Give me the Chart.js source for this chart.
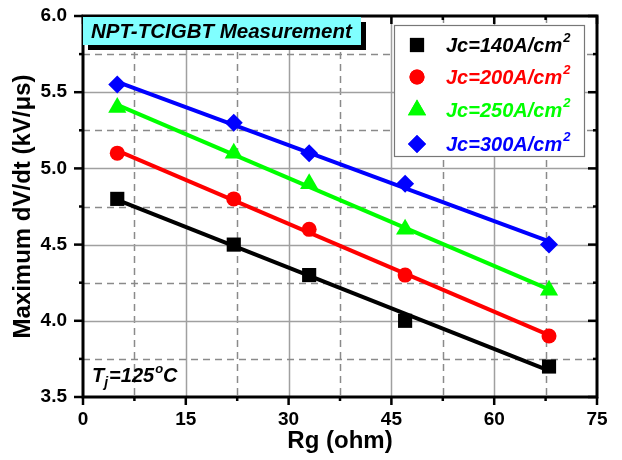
<!DOCTYPE html>
<html>
<head>
<meta charset="utf-8">
<script src="https://cdn.jsdelivr.net/npm/chart.js@4.4.1/dist/chart.umd.min.js"></script>
<style>
  body { margin: 0; background: #fff; }
  #wrap { width: 622px; height: 460px; }
</style>
</head>
<body>
<div id="wrap"><canvas id="grafica" width="622" height="460"></canvas></div>
<script>
// gate resistance (ohm) and measured max dV/dt (kV/us) at each current density
var rg = [5, 22, 33, 47, 68];
var dv140 = [4.8, 4.5, 4.3, 4.0, 3.7];
var dv200 = [5.1, 4.8, 4.6, 4.3, 3.9];
var dv250 = [5.4, 5.1, 4.9, 4.6, 4.2];
var dv300 = [5.55, 5.3, 5.1, 4.9, 4.5];
var jcLabels = ['140', '200', '250', '300'];
var xTicks = [0, 15, 30, 45, 60, 75];
var yTicks = [3.5, 4.0, 4.5, 5.0, 5.5, 6.0];

var colores = ['#000000', '#ff0000', '#00ff00', '#0000ff'];
var formas = ['rect', 'circle', 'triangle', 'rectRot'];
var radios = [10, 7.5, 10.5, 9];
var series = [dv140, dv200, dv250, dv300];
var FONT = 'Arial, "Liberation Sans", sans-serif';

// least squares straight line through each series, drawn between first and last Rg
function ajuste(xs, ys) {
  var n = xs.length, mx = 0, my = 0;
  for (var i = 0; i < n; i++) { mx += xs[i]; my += ys[i]; }
  mx /= n; my /= n;
  var sxx = 0, sxy = 0;
  for (var j = 0; j < n; j++) { sxx += (xs[j] - mx) * (xs[j] - mx); sxy += (xs[j] - mx) * (ys[j] - my); }
  var b = sxy / sxx, a = my - b * mx;
  var x0 = xs[0], x1 = xs[n - 1];
  return [{x: x0, y: a + b * x0}, {x: x1, y: a + b * x1}];
}

var datasets = [];
series.forEach(function (s, k) {
  datasets.push({
    label: 'Jc=' + jcLabels[k] + 'A/cm2',
    data: rg.map(function (x, i) { return {x: x, y: s[i]}; }),
    showLine: false,
    pointStyle: formas[k],
    pointRadius: radios[k],
    pointHoverRadius: radios[k],
    backgroundColor: colores[k],
    borderColor: colores[k],
    borderWidth: 0,
    order: 0
  });
  datasets.push({
    label: 'fit' + jcLabels[k],
    data: ajuste(rg, s),
    showLine: true,
    pointRadius: 0,
    borderColor: colores[k],
    borderWidth: 4,
    order: 1
  });
});

function xPix(chart, v) { return chart.scales.x.getPixelForValue(v); }
function yPix(chart, v) { return chart.scales.y.getPixelForValue(v); }
function esMayorY(w) { return Math.abs(w * 2 - Math.round(w * 2)) < 1e-6; }

var rejilla = {
  id: 'rejilla',
  beforeDatasetsDraw: function (chart) {
    var c = chart.ctx, a = chart.chartArea;
    c.save();
    c.lineWidth = 1.5;
    for (var v = 7.5; v < 75; v += 7.5) {
      var px = Math.round(xPix(chart, v)) + 0.5;
      var mayor = (v % 15 === 0);
      c.strokeStyle = mayor ? '#a0a0a0' : '#8a8a8a';
      c.setLineDash(mayor ? [] : [7, 5]);
      c.beginPath(); c.moveTo(px, a.top); c.lineTo(px, a.bottom); c.stroke();
    }
    for (var w = 3.75; w < 6; w += 0.25) {
      var py = Math.round(yPix(chart, w)) + 0.5;
      var may = esMayorY(w);
      c.strokeStyle = may ? '#a0a0a0' : '#8a8a8a';
      c.setLineDash(may ? [] : [7, 5]);
      c.beginPath(); c.moveTo(a.left, py); c.lineTo(a.right, py); c.stroke();
    }
    c.restore();
  },
  afterDatasetsDraw: function (chart) {
    var c = chart.ctx, a = chart.chartArea;
    c.save();
    // frame and tick marks
    c.strokeStyle = '#000'; c.lineWidth = 3; c.setLineDash([]);
    c.strokeRect(a.left, a.top, a.right - a.left, a.bottom - a.top);
    c.lineWidth = 2.5;
    for (var v = 0; v <= 75; v += 7.5) {
      var px = xPix(chart, v), L = (v % 15 === 0) ? 8 : 4;
      c.beginPath(); c.moveTo(px, a.bottom); c.lineTo(px, a.bottom + L); c.stroke();
      c.beginPath(); c.moveTo(px, a.top); c.lineTo(px, a.top + L); c.stroke();
    }
    for (var w = 3.5; w <= 6.001; w += 0.25) {
      var py = yPix(chart, w), M = esMayorY(w) ? 9 : 4;
      c.beginPath(); c.moveTo(a.left, py); c.lineTo(a.left - M, py); c.stroke();
      c.beginPath(); c.moveTo(a.right, py); c.lineTo(a.right - M, py); c.stroke();
    }

    // title box with shadow
    var bx = a.left, by = a.top + 1, bw = 278, bh = 28;
    c.fillStyle = '#000'; c.fillRect(bx + 5, by + 5, bw, bh);
    c.fillStyle = '#80ffff'; c.fillRect(bx, by, bw, bh);
    c.fillStyle = '#000';
    c.font = 'italic bold 20.5px ' + FONT;
    c.textBaseline = 'alphabetic'; c.textAlign = 'left';
    c.fillText('NPT-TCIGBT Measurement', bx + 8, by + 21);

    // legend
    var lx = 394, ly = 25, lw = 190, lh = 131;
    c.fillStyle = '#fff'; c.fillRect(lx, ly, lw, lh);
    c.strokeStyle = '#777'; c.lineWidth = 1.2; c.strokeRect(lx + 0.5, ly + 0.5, lw, lh);
    var filas = [45, 77, 110, 144];
    chart.data.datasets.filter(function (d) { return d.order === 0; }).forEach(function (d, k) {
      var cy = filas[k];
      c.fillStyle = d.backgroundColor;
      c.beginPath();
      Chart.helpers.drawPoint(c, {pointStyle: d.pointStyle, radius: d.pointRadius, borderWidth: 0}, 417, cy);
      c.fill();
      c.font = 'italic bold 20px ' + FONT;
      var t = 'Jc=' + jcLabels[k] + 'A/cm';
      c.fillText(t, 446, cy + 7);
      var tw = c.measureText(t).width;
      c.font = 'italic bold 13px ' + FONT;
      c.fillText('2', 446 + tw + 1, cy - 3);
    });

    // junction temperature note
    c.fillStyle = '#000';
    var tx = 92, ty = 382;
    c.font = 'italic bold 20px ' + FONT;
    c.fillText('T', tx, ty);
    tx += c.measureText('T').width;
    c.font = 'italic bold 14px ' + FONT;
    c.fillText('j', tx, ty + 5);
    tx += c.measureText('j').width + 1;
    c.font = 'italic bold 20px ' + FONT;
    c.fillText('=125', tx, ty);
    tx += c.measureText('=125').width;
    c.font = 'italic bold 13px ' + FONT;
    c.fillText('o', tx + 1, ty - 9);
    tx += c.measureText('o').width + 1;
    c.font = 'italic bold 20px ' + FONT;
    c.fillText('C', tx, ty);
    c.restore();
  }
};

var micanvas = document.getElementById('grafica').getContext('2d');
var chart = new Chart(micanvas, {
  type: 'scatter',
  data: { datasets: datasets },
  plugins: [rejilla],
  options: {
    responsive: false,
    animation: false,
    layout: { padding: { left: 0, top: 16, right: 25, bottom: 0 } },
    plugins: { legend: { display: false }, tooltip: { enabled: false } },
    scales: {
      x: {
        type: 'linear', min: xTicks[0], max: xTicks[xTicks.length - 1],
        afterFit: function (s) { s.height = 63; s.paddingLeft = 0; s.paddingRight = 0; },
        afterBuildTicks: function (s) { s.ticks = xTicks.map(function (v) { return {value: v}; }); },
        grid: { display: false, drawTicks: false },
        border: { display: false },
        ticks: { color: '#000', padding: 11, font: { family: FONT, size: 19, weight: 'bold' } },
        title: { display: true, text: 'Rg (ohm)', color: '#000', padding: { top: 0, bottom: 4 },
                 font: { family: FONT, size: 24, weight: 'bold' } }
      },
      y: {
        type: 'linear', min: yTicks[0], max: yTicks[yTicks.length - 1],
        afterFit: function (s) { s.width = 83; s.paddingTop = 0; s.paddingBottom = 0; },
        afterBuildTicks: function (s) { s.ticks = yTicks.map(function (v) { return {value: v}; }); },
        grid: { display: false, drawTicks: false },
        border: { display: false },
        ticks: { color: '#000', padding: 16, font: { family: FONT, size: 19, weight: 'bold' },
                 callback: function (v) { return Number(v).toFixed(1); } },
        title: { display: true, text: 'Maximum dV/dt (kV/\u03bcs)', color: '#000', padding: { top: 9, bottom: 0 },
                 font: { family: FONT, size: 24, weight: 'bold' } }
      }
    }
  }
});
</script>
</body>
</html>
